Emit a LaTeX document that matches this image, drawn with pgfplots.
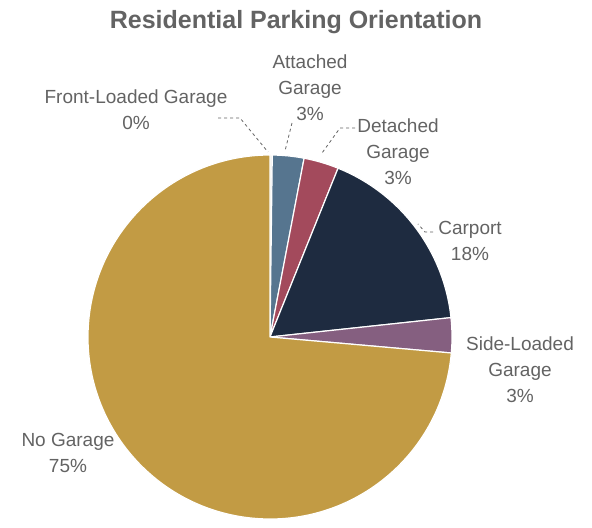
\documentclass[border=0pt]{standalone}
\usepackage{pgfplots}
\pgfplotsset{compat=1.18}
\usepackage{pgfplotstable}
\usepackage{fontspec}
\setmainfont{Liberation Sans}
\definecolor{cFront}{HTML}{E6E6E6}
\definecolor{cAtt}{HTML}{56758F}
\definecolor{cDet}{HTML}{A34A5C}
\definecolor{cCar}{HTML}{1E2B40}
\definecolor{cSide}{HTML}{855F80}
\definecolor{cNo}{HTML}{C29B44}
\definecolor{txt}{HTML}{636363}
\pgfplotstableread{
value col
0.2 cFront
2.8 cAtt
3.1 cDet
17.2 cCar
3.1 cSide
73.6 cNo
}\piedata
\begin{document}
\begin{tikzpicture}
\begin{axis}[hide axis, x=1pt, y=1pt, xmin=-270, xmax=322, ymin=-182, ymax=337, clip=false]
\pgfplotsextra{
  \path (rel axis cs:0,0) rectangle (rel axis cs:1,1);
  \def\cumul{90}
  \pgfplotsforeachungrouped \i in {0,...,5}{
    \pgfplotstablegetelem{\i}{value}\of\piedata
    \pgfmathsetmacro\stopang{\cumul-3.6*\pgfplotsretval}
    \pgfplotstablegetelem{\i}{col}\of\piedata
    \edef\col{\pgfplotsretval}
    \fill[fill=\col, draw=white, line width=1.2pt, line join=round] (axis cs:0,0) -- ++(\cumul:182pt) arc[start angle=\cumul, end angle=\stopang, radius=182pt] -- cycle;
    \global\let\cumul\stopang
  }
  \begin{scope}[txt, dashed, line width=0.8pt]
    \draw (axis cs:-52,219) -- (axis cs:-30,219) -- (axis cs:-2,185);
    \draw (axis cs:22,214) -- (axis cs:15,186);
    \draw (axis cs:85,209) -- (axis cs:70,209) -- (axis cs:52,184);
    \draw (axis cs:163,105) -- (axis cs:155,105) -- (axis cs:148,113);
  \end{scope}
}
\node[txt, font=\fontsize{25}{30}\selectfont\bfseries] at (axis cs:26,315) {Residential Parking Orientation};
\begin{scope}[every node/.style={txt, align=center, font=\fontsize{19}{26}\selectfont}]
\node at (axis cs:-134,227) {Front-Loaded Garage\\0\%};
\node at (axis cs:40,249) {Attached\\Garage\\3\%};
\node at (axis cs:128,185) {Detached\\Garage\\3\%};
\node at (axis cs:200,96) {Carport\\18\%};
\node at (axis cs:250,-33) {Side-Loaded\\Garage\\3\%};
\node at (axis cs:-202,-116) {No Garage\\75\%};
\end{scope}
\end{axis}
\end{tikzpicture}
\end{document}
